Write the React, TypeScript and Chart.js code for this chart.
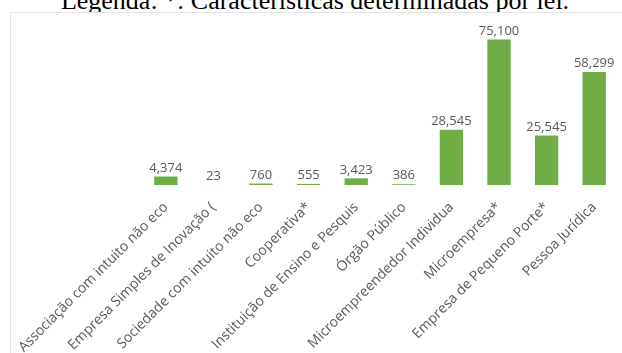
import React, { useEffect, useRef } from "react";
import { Chart, registerables } from "chart.js";

Chart.register(...registerables);

const caption = "Legenda: *: Características determinadas por lei.";

const categories = [
  "Associação com intuito não eco",
  "Empresa Simples de Inovação (",
  "Sociedade com intuito não eco",
  "Cooperativa*",
  "Instituição de Ensino e Pesquis",
  "Órgão Público",
  "Microempreendedor Individua",
  "Microempresa*",
  "Empresa de Pequeno Porte*",
  "Pessoa Jurídica",
];

const values = [4374, 23, 760, 555, 3423, 386, 28545, 75100, 25545, 58299];

const yMax = 80000;

const FONT = "'Open Sans', sans-serif";
const TEXT_COLOR = "#595959";
const BAR_COLOR = "#70AD47";

const valueLabelPlugin = {
  id: "valueLabels",
  afterDatasetsDraw(chart: any) {
    const ctx = chart.ctx;
    const meta = chart.getDatasetMeta(0);
    ctx.save();
    ctx.font = `13px ${FONT}`;
    ctx.fillStyle = TEXT_COLOR;
    ctx.textAlign = "center";
    ctx.textBaseline = "bottom";
    meta.data.forEach((el: any, i: number) => {
      const v = values[i];
      ctx.fillText(v.toLocaleString("en-US"), el.x, el.y - 2);
    });
    ctx.restore();
  },
};

export default function App() {
  const canvasRef = useRef<HTMLCanvasElement | null>(null);

  useEffect(() => {
    const canvas = canvasRef.current;
    if (!canvas) return;
    const chart = new Chart(canvas, {
      type: "bar",
      data: {
        labels: categories,
        datasets: [
          {
            data: values,
            backgroundColor: BAR_COLOR,
            borderWidth: 0,
            categoryPercentage: 1,
            barPercentage: 0.49,
          },
        ],
      },
      options: {
        responsive: false,
        animation: false,
        devicePixelRatio: 1,
        layout: { padding: { left: 132, right: 4, top: 18, bottom: 0 } },
        plugins: {
          legend: { display: false },
          tooltip: { enabled: false },
          title: { display: false },
        },
        scales: {
          x: {
            grid: { display: false, drawTicks: false },
            border: { display: false },
            ticks: {
              autoSkip: false,
              minRotation: 45,
              maxRotation: 45,
              padding: 14,
              color: TEXT_COLOR,
              font: { family: FONT, size: 14 },
            },
            afterFit(scale: any) {
              scale.paddingLeft = 0;
              scale.paddingRight = 0;
              scale.height = 168;
            },
          },
          y: {
            display: false,
            min: 0,
            max: yMax,
          },
        },
      },
      plugins: [valueLabelPlugin],
    });
    return () => chart.destroy();
  }, []);

  return (
    <div
      style={{
        position: "fixed",
        left: 0,
        top: 0,
        width: 622,
        height: 353,
        overflow: "hidden",
        background: "#ffffff",
      }}
    >
      <div
        style={{
          position: "absolute",
          left: 0,
          top: -12.5,
          width: 630,
          textAlign: "center",
          fontFamily: "'Liberation Serif', 'Times New Roman', serif",
          fontSize: 26,
          lineHeight: "26px",
          color: "#000",
          whiteSpace: "nowrap",
        }}
      >
        {caption}
      </div>
      <div
        style={{
          position: "absolute",
          left: 10,
          top: 12,
          width: 612,
          height: 341,
          background: "#ffffff",
          boxShadow: "inset 1px 1px 0 #e4e4e4",
        }}
      >
        <canvas ref={canvasRef} width={612} height={341} style={{ display: "block", width: 612, height: 341 }} />
      </div>
    </div>
  );
}
